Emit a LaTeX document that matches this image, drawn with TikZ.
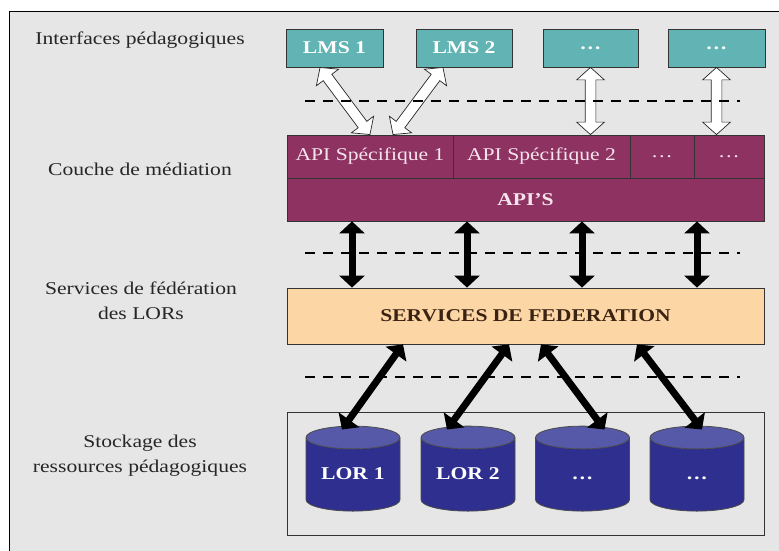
\documentclass[tikz,border=0pt]{standalone}
\usepackage{fontspec}
\setmainfont[FakeStretch=1.2]{Liberation Serif}
\usepackage{tikz}
\usetikzlibrary{shapes,arrows.meta,calc}
\usepackage{xcolor}
\definecolor{bggray}{RGB}{230,230,230}
\definecolor{lmsteal}{RGB}{98,179,179}
\definecolor{apimaroon}{RGB}{142,50,98}
\definecolor{apitext}{RGB}{246,228,236}
\definecolor{fedpeach}{RGB}{253,214,166}
\definecolor{fedtext}{RGB}{59,35,20}
\definecolor{lorblue}{RGB}{47,47,143}
\definecolor{lortop}{RGB}{86,88,168}
\tikzstyle{layerlabel} = [font=\fontsize{18}{25}\selectfont, align=center, text=black!85, inner sep=0pt]
\tikzstyle{lmsbox} = [draw=black!80, line width=0.8pt, fill=lmsteal, text=white, font=\fontsize{18}{22}\selectfont\bfseries, minimum height=38pt, inner sep=0pt]
\tikzstyle{apicell} = [draw=black!80, line width=0.8pt, fill=apimaroon, text=apitext, font=\fontsize{18}{22}\selectfont, minimum height=43pt, inner sep=0pt]
\tikzstyle{fedbox} = [draw=black!80, line width=0.8pt, fill=fedpeach, text=fedtext, font=\fontsize{18}{22}\selectfont\bfseries, minimum width=477pt, minimum height=56pt, inner sep=0pt]
\tikzstyle{lor} = [cylinder, shape border rotate=90, aspect=0.3, draw=black!70, line width=0.8pt, cylinder uses custom fill, cylinder body fill=lorblue, cylinder end fill=lortop, minimum width=94pt, minimum height=85pt, inner sep=0pt, text height=13pt, text depth=4pt, text width=76pt, align=center, text=white, font=\fontsize{18}{22}\selectfont\bfseries]
\tikzstyle{line} = [draw, line width=7pt, {Triangle[length=12pt,width=25pt]}-{Triangle[length=12pt,width=25pt]}]
\tikzstyle{openarrow} = [double arrow, draw=black!85, fill=white, line width=0.7pt, inner xsep=0pt, inner ysep=5pt, double arrow head extend=8.5pt, double arrow tip angle=96]
\tikzstyle{separator} = [line width=2.5pt, dash pattern=on 10pt off 8pt]

\begin{document}
\begin{tikzpicture}[x=1pt, y=-1pt]
    \useasboundingbox (0,0) rectangle (779,550);
    \clip (0,0) rectangle (779,550);
    \fill[white] (0,0) rectangle (779,550);
    \draw[fill=bggray, line width=1pt] (9,11) rectangle (800,570);

    % layer names
    \node[layerlabel] (lblui) at (140,40) {Interfaces pédagogiques};
    \node[layerlabel] (lblmed) at (140,169) {Couche de médiation};
    \node[layerlabel] (lblfed) at (141,301) {Services de fédération\\des LORs};
    \node[layerlabel] (lblsto) at (140,456) {Stockage des\\ressources pédagogiques};

    % LMS
    \node[lmsbox, minimum width=97pt] (lms1) at (334.5,48) {LMS 1};
    \node[lmsbox, minimum width=96pt] (lms2) at (464,48) {LMS 2};
    \node[lmsbox, minimum width=95pt] (lms3) at (590.5,48) {…};
    \node[lmsbox, minimum width=97pt] (lms4) at (716.5,48) {…};

    % mediation
    \node[apicell, minimum width=166pt] (spec1) at (370,156.5) {API Spécifique 1};
    \node[apicell, minimum width=177pt] (spec2) at (541.5,156.5) {API Spécifique 2};
    \node[apicell, minimum width=64pt] (spec3) at (662,156.5) {…};
    \node[apicell, minimum width=70pt] (spec4) at (729,156.5) {…};
    \node[apicell, minimum width=477pt, font=\fontsize{18}{22}\selectfont\bfseries] (apis) at (525.5,199.5) {API’S};

    % federation
    \node[fedbox] (fed) at (525.5,316) {SERVICES DE FEDERATION};

    % storage
    \node[draw=black!80, line width=0.8pt, minimum width=477pt, minimum height=123pt] (store) at (525.5,473.5) {};
    \node[lor] (lor1) at (353,474.5) {LOR 1};
    \node[lor] (lor2) at (468,474.5) {LOR 2};
    \node[lor] (lor3) at (582.5,474.5) {…};
    \node[lor] (lor4) at (697,474.5) {…};

    % LMS <-> API
    \path let \p1 = ($(spec1.north)-(lms1.south)+(14.5,0)$), \n1 = {veclen(\x1,\y1)} in
        ($(lms1.south)+(-14.5,0)$) -- (spec1.north) node[openarrow, midway, sloped, minimum height=\n1] {};
    \path let \p1 = ($(spec1.north)-(lms2.south)+(44,0)$), \n1 = {veclen(\x1,\y1)} in
        ($(lms2.south)+(-21,0)$) -- ($(spec1.north)+(23,0)$) node[openarrow, midway, sloped, minimum height=\n1] {};
    \path let \p1 = ($(lms3.south)-(lms3.south |- spec2.north)$), \n1 = {veclen(\x1,\y1)} in
        (lms3.south) -- (lms3.south |- spec2.north) node[openarrow, midway, sloped, minimum height=\n1] {};
    \path let \p1 = ($(lms4.south)-(lms4.south |- spec4.north)$), \n1 = {veclen(\x1,\y1)} in
        (lms4.south) -- (lms4.south |- spec4.north) node[openarrow, midway, sloped, minimum height=\n1] {};

    % separators
    \foreach \y in {101,253,377}
        \draw[separator] (305,\y) -- (740,\y);

    % API <-> federation
    \foreach \x in {352,467,582,697}
        \path[line] (\x,0 |- apis.south) -- (\x,0 |- fed.north);

    % federation <-> LORs
    \foreach \s/\n/\dx in {403/1/-11, 509/2/-21, 541/3/22, 637/4/5}
        \path[line] (\s,0 |- fed.south) -- ($(lor\n.center)+(\dx,-45)$);
\end{tikzpicture}
\end{document}
